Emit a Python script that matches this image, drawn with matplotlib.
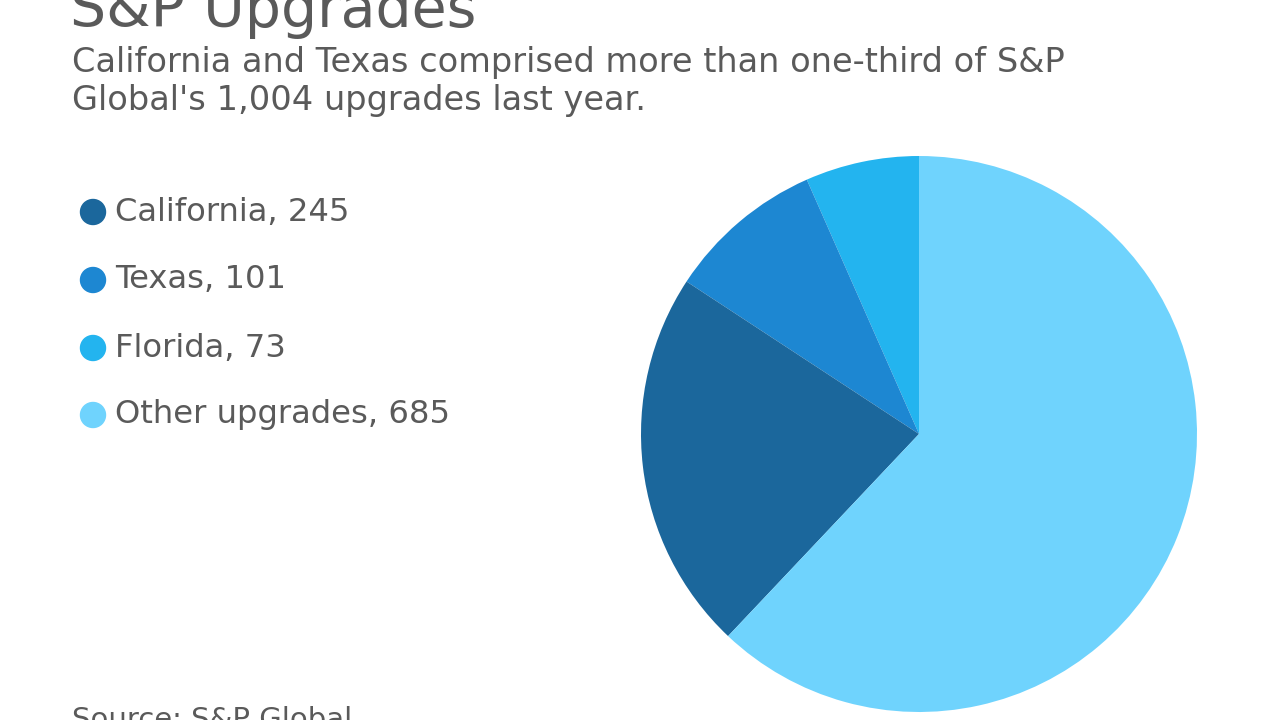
import matplotlib
matplotlib.use("Agg")
import matplotlib.pyplot as plt

# data
labels = ['California', 'Texas', 'Florida', 'Other upgrades']
values = [245, 101, 73, 685]
colors = ['#1b679c', '#1d87d2', '#23b4ef', '#6fd3fd']

title = 'S&P Upgrades'
subtitle = ('California and Texas comprised more than one-third of S&P\n'
            "Global's 1,004 upgrades last year.")
source = 'Source: S&P Global'

W, H = 1280, 720
TEXT = '#5a5a5a'

fig = plt.figure(figsize=(W / 100, H / 100), dpi=100)
fig.patch.set_facecolor('white')


def fx(px):
    return px / W


def fy(py):
    return 1 - py / H


# titles (the reference crops the title and source at the edges)
fig.text(fx(70), fy(27), title, fontsize=41, color=TEXT, va='baseline',
         family='DejaVu Sans')
fig.text(fx(72), fy(110), subtitle, fontsize=24.2, color=TEXT, va='baseline',
         linespacing=1.2, family='DejaVu Sans')
fig.text(fx(72), fy(706), source, fontsize=21, color=TEXT, va='top',
         family='DejaVu Sans')

# legend, drawn by hand in the original order
leg_y = [212, 280, 348, 415]
for lab, val, col, yy in zip(labels, values, colors, leg_y):
    fig.patches.append(matplotlib.patches.Ellipse(
        (fx(93), fy(yy)), 25 / W, 25 / H, transform=fig.transFigure,
        color=col, figure=fig))
    fig.text(fx(115), fy(yy), '{}, {}'.format(lab, val), fontsize=23.2,
             color=TEXT, va='center', family='DejaVu Sans')

# pie: Florida, Texas, California counter-clockwise from the top
cx, cy, r = 919, 434, 278
ax = fig.add_axes([fx(cx - r), fy(cy + r), 2 * r / W, 2 * r / H])
order = [2, 1, 0, 3]
ax.pie([values[i] for i in order], colors=[colors[i] for i in order],
       startangle=90, counterclock=True,
       wedgeprops={'linewidth': 0})
ax.set_xlim(-1, 1)
ax.set_ylim(-1, 1)
ax.set_aspect('equal')

fig.savefig('out.png', dpi=100)
